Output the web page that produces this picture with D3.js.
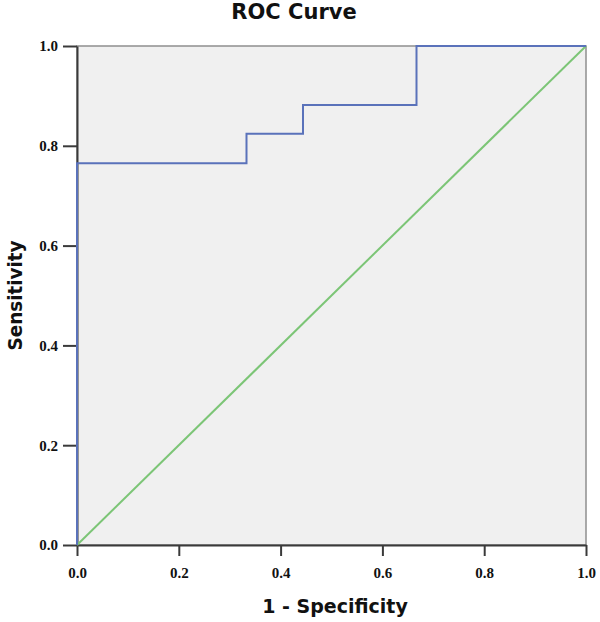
<!DOCTYPE html>
<html>
<head>
<meta charset="utf-8">
<script src="https://cdn.jsdelivr.net/npm/d3@7"></script>
<style>
  body { margin: 0; background: #fff; }
  .tick text { font-family: "Liberation Serif", "DejaVu Serif", serif; font-weight: bold; font-size: 15px; fill: #111; }
</style>
</head>
<body>
<svg id="chart"></svg>
<script>
// ROC points (1 - specificity, sensitivity)
const fpr = [0, 0, 0.333, 0.333, 0.444, 0.444, 0.667, 0.667, 1]
const tpr = [0, 0.765, 0.765, 0.824, 0.824, 0.882, 0.882, 1, 1]
const refLine = [0, 1]
const tickValues = [0, 0.2, 0.4, 0.6, 0.8, 1.0]

const width = 600, height = 622
const margin = { top: 46, right: 14, bottom: 77, left: 77 }

const svg = d3.select('#chart')
    .attr('width', width)
    .attr('height', height)

const xScale = d3.scaleLinear().domain([0, 1]).range([margin.left, width - margin.right])
const yScale = d3.scaleLinear().domain([0, 1]).range([height - margin.bottom, margin.top])

// plot background
svg.append('rect')
    .attr('x', xScale(0))
    .attr('y', yScale(1))
    .attr('width', xScale(1) - xScale(0))
    .attr('height', yScale(0) - yScale(1))
    .attr('fill', '#f0f0f0')
    .attr('stroke', '#8f8f8f')
    .attr('stroke-width', 1.5)

// axes
function xAxis(g) {
    g.attr('transform', `translate(0,${yScale(0)})`)
        .call(d3.axisBottom(xScale).tickValues(tickValues).tickFormat(d3.format('.1f')).tickSizeInner(11).tickSizeOuter(0).tickPadding(11))
    g.selectAll('line, path').attr('stroke', '#3a3a3a').attr('stroke-width', 2)
}
svg.append('g').call(xAxis)

function yAxis(g) {
    g.attr('transform', `translate(${xScale(0)},0)`)
        .call(d3.axisLeft(yScale).tickValues(tickValues).tickFormat(d3.format('.1f')).tickSizeInner(14).tickSizeOuter(0).tickPadding(5))
    g.selectAll('line, path').attr('stroke', '#3a3a3a').attr('stroke-width', 2)
}
svg.append('g').call(yAxis)

// reference diagonal
svg.append('line')
    .attr('x1', xScale(refLine[0])).attr('y1', yScale(refLine[0]))
    .attr('x2', xScale(refLine[1])).attr('y2', yScale(refLine[1]))
    .attr('stroke', '#7cc576')
    .attr('stroke-width', 2)

// roc curve (drawn over the axis like the original)
const line = d3.line().x(d => xScale(d[0])).y(d => yScale(d[1]))
svg.append('path')
    .datum(fpr.map((v, i) => [v, tpr[i]]))
    .attr('d', line)
    .attr('fill', 'none')
    .attr('stroke', '#5a72ba')
    .attr('stroke-width', 2)

// title and labels
svg.append('text')
    .text('ROC Curve')
    .attr('x', 294)
    .attr('y', 19)
    .attr('text-anchor', 'middle')
    .attr('font-family', '"DejaVu Sans", sans-serif')
    .attr('font-weight', 'bold')
    .attr('font-size', 21)
    .attr('fill', '#111')

svg.append('text')
    .text('1 - Specificity')
    .attr('x', 335)
    .attr('y', 613)
    .attr('text-anchor', 'middle')
    .attr('font-family', '"DejaVu Sans", sans-serif')
    .attr('font-weight', 'bold')
    .attr('font-size', 19)
    .attr('fill', '#111')

svg.append('text')
    .text('Sensitivity')
    .attr('transform', `translate(22,${(yScale(0) + yScale(1)) / 2}) rotate(-90)`)
    .attr('text-anchor', 'middle')
    .attr('font-family', '"DejaVu Sans", sans-serif')
    .attr('font-weight', 'bold')
    .attr('font-size', 20)
    .attr('textLength', 110)
    .attr('lengthAdjust', 'spacingAndGlyphs')
    .attr('fill', '#111')
</script>
</body>
</html>
